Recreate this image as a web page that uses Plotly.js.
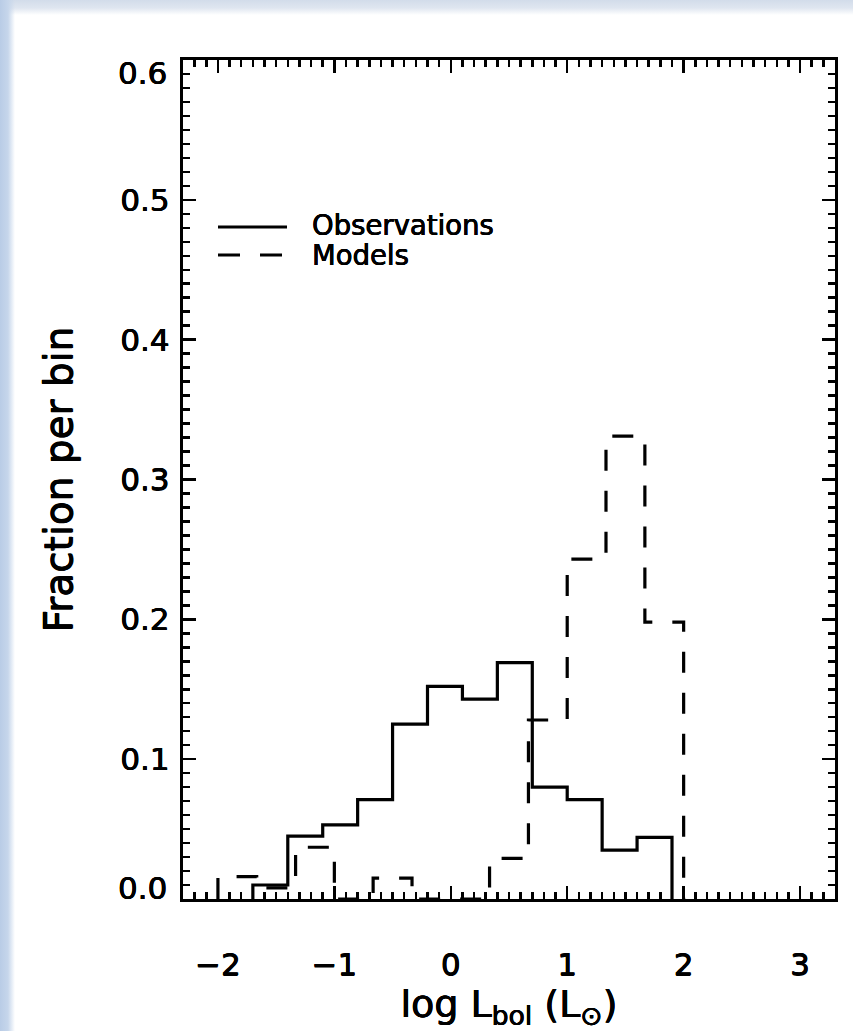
<!DOCTYPE html>
<html>
<head>
<meta charset="utf-8">
<script src="https://cdn.plot.ly/plotly-3.0.1.min.js"></script>
<style>
  html, body { margin: 0; padding: 0; }
  body {
    width: 853px; height: 1031px; overflow: hidden;
    background:
      linear-gradient(to right, #b9cce6 0px, #c6d6eb 8px, rgba(255,255,255,0) 15px),
      linear-gradient(to bottom, #d2dcea 0px, #dfe6f0 8px, rgba(255,255,255,0) 15px),
      #ffffff;
  }
  #chart { width: 853px; height: 1031px; }
</style>
</head>
<body>
<div id="chart"></div>
<script>
// Observed luminosity distribution: bin edges (log L_bol) and fraction per bin
const obsEdges = [-1.7, -1.4, -1.1, -0.8, -0.5, -0.2, 0.1, 0.4, 0.7, 1.0, 1.3, 1.6, 1.9];
const obsFrac  = [0.010, 0.045, 0.053, 0.071, 0.125, 0.152, 0.143, 0.169, 0.080, 0.071, 0.035, 0.044];

// Model luminosity distribution: bins of 1/3 dex
const modEdges = [-2.0, -1.667, -1.333, -1.0, -0.667, -0.333, 0.0, 0.333, 0.667, 1.0, 1.333, 1.667, 2.0];
const modFrac  = [0.016, 0.008, 0.037, 0.0, 0.015, 0.0, 0.0, 0.029, 0.128, 0.243, 0.331, 0.198];

const xTickVals = [-2, -1, 0, 1, 2, 3];
const yTickVals = [0.0, 0.1, 0.2, 0.3, 0.4, 0.5, 0.6];
const yTickText = ['0.0', '0.1', '0.2', '0.3', '0.4', '0.5', '0.6'];
const seriesNames = ['Observations', 'Models'];

// Turn edges + heights into a step outline that starts and ends on the axis
function stepOutline(edges, vals) {
  const x = [edges[0]];
  const y = [0];
  for (let i = 0; i < vals.length; i++) {
    x.push(edges[i]);
    y.push(vals[i]);
  }
  x.push(edges[edges.length - 1]);
  y.push(vals[vals.length - 1]);
  x.push(edges[edges.length - 1]);
  y.push(0);
  return { x, y };
}

const obs = stepOutline(obsEdges, obsFrac);
const mod = stepOutline(modEdges, modFrac);

const traces = [
  {
    type: 'scatter', mode: 'lines', name: seriesNames[0],
    x: obs.x, y: obs.y,
    line: { shape: 'hv', color: '#000', width: 3.2 },
    showlegend: false, hoverinfo: 'skip'
  },
  {
    type: 'scatter', mode: 'lines', name: seriesNames[1],
    x: mod.x, y: mod.y,
    line: { shape: 'hv', color: '#000', width: 3.2, dash: '21px,20px' },
    showlegend: false, hoverinfo: 'skip'
  }
];

// plot area in pixels: x 183..835, y 60..899
const L = 183, R = 835, T = 60, B = 899;
const px = v => (v - L) / (R - L);
const py = v => (B - v) / (B - T);

// slight stroke so the lettering reads as heavy as the axis lines
const heavy = '0.35px 0 0 #000, -0.35px 0 0 #000, 0 0.3px 0 #000';
const tickFont = { size: 31, shadow: heavy };

// inner y labels come from the axis; the two end labels sit just inside the frame
const last = yTickVals.length - 1;
const yEndAnn = [0, last].map(i => ({
  xref: 'paper', yref: 'y', x: 0, y: yTickVals[i], xanchor: 'right', yanchor: 'middle',
  xshift: -14, yshift: i === 0 ? 11 : -13,
  text: yTickText[i], showarrow: false, font: tickFont
}));

const layout = {
  width: 853, height: 1031,
  margin: { l: L, r: 853 - R, t: T, b: 1031 - B, pad: 0 },
  paper_bgcolor: 'rgba(0,0,0,0)',
  plot_bgcolor: '#ffffff',
  font: { family: 'DejaVu Sans, sans-serif', color: '#000' },
  showlegend: false,
  xaxis: {
    range: [-2.3, 3.3],
    tickmode: 'array', tickvals: xTickVals,
    ticks: 'inside', ticklen: 13, tickwidth: 2.5, tickcolor: '#000',
    showline: true, linewidth: 3.2, linecolor: '#000', mirror: 'allticks',
    showgrid: false, zeroline: false,
    tickfont: tickFont, ticklabelstandoff: 36,
    minor: { dtick: 0.1, tick0: 0, ticks: 'inside', ticklen: 7, tickwidth: 2.5, tickcolor: '#000', showgrid: false },
    title: { text: 'log L<sub>bol</sub> (L<sub>⊙</sub>)', font: { size: 38, shadow: heavy }, standoff: 5 }
  },
  yaxis: {
    range: [0, 0.6],
    tickmode: 'array',
    tickvals: yTickVals.slice(1, last),
    ticktext: yTickText.slice(1, last),
    ticks: 'inside', ticklen: 13, tickwidth: 2.5, tickcolor: '#000',
    showline: true, linewidth: 3.2, linecolor: '#000', mirror: 'allticks',
    showgrid: false, zeroline: false,
    tickfont: tickFont, ticklabelstandoff: 4,
    minor: { dtick: 0.01, tick0: 0, ticks: 'inside', ticklen: 7, tickwidth: 2.5, tickcolor: '#000', showgrid: false },
    title: { text: 'Fraction per bin', font: { size: 39, shadow: heavy }, standoff: 36 }
  },
  shapes: [
    { type: 'line', xref: 'paper', yref: 'paper', x0: px(218), x1: px(287), y0: py(227), y1: py(227),
      line: { color: '#000', width: 3.2 } },
    { type: 'line', xref: 'paper', yref: 'paper', x0: px(218), x1: px(282), y0: py(255), y1: py(255),
      line: { color: '#000', width: 3.2, dash: '22px,20px' } }
  ],
  annotations: yEndAnn.concat([
    { xref: 'paper', yref: 'paper', x: px(310), y: py(225), xanchor: 'left', yanchor: 'middle',
      text: seriesNames[0], showarrow: false, font: { size: 27.5, shadow: heavy } },
    { xref: 'paper', yref: 'paper', x: px(310), y: py(255), xanchor: 'left', yanchor: 'middle',
      text: seriesNames[1], showarrow: false, font: { size: 27.5, shadow: heavy } }
  ])
};

Plotly.newPlot('chart', traces, layout, { staticPlot: true, displayModeBar: false });
</script>
</body>
</html>
